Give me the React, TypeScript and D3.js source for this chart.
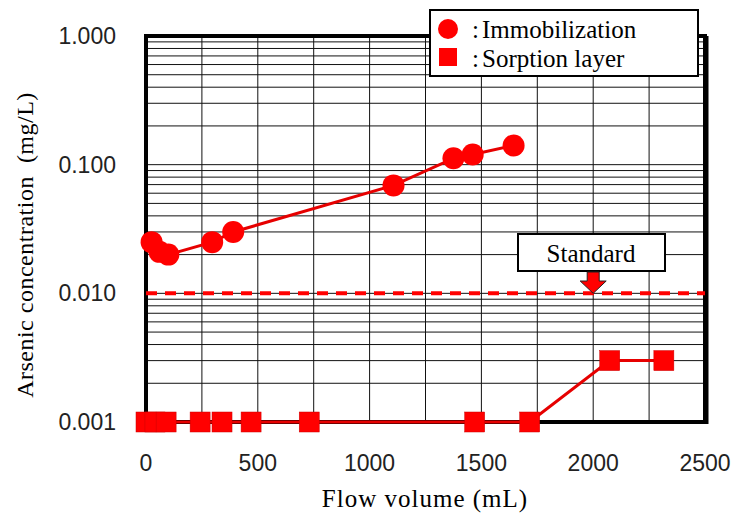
import React from "react";
import * as d3 from "d3";

const immobX = [25, 60, 100, 296, 390, 1107, 1375, 1461, 1644];
const immobY = [0.025, 0.021, 0.02, 0.025, 0.03, 0.069, 0.112, 0.12, 0.141];
const sorpX = [0, 40, 90, 242, 340, 470, 730, 1470, 1716, 2074, 2316];
const sorpY = [0.001, 0.001, 0.001, 0.001, 0.001, 0.001, 0.001, 0.001, 0.001, 0.003, 0.003];
const xTicks = [0, 500, 1000, 1500, 2000, 2500];
const yTicks = [0.001, 0.01, 0.1, 1];
const yTickLabels = ["0.001", "0.010", "0.100", "1.000"];
const standardValue = 0.01;
const standardArrowX = 2000;

const W = 734, H = 518;
const L = 146, R = 705, T = 36, B = 422;
const RED = "#ff0000";
const LINE = "#e60000";

export default function App() {
  const x = d3.scaleLinear().domain([0, 2500]).range([L, R]);
  const y = d3.scaleLog().domain([0.001, 1]).range([B, T]);
  const immobPath = d3.line<[number, number]>().x(d => x(d[0])).y(d => y(d[1]))(immobX.map((v, i) => [v, immobY[i]]));
  const sorpPath = d3.line<[number, number]>().x(d => x(d[0])).y(d => y(d[1]))(sorpX.map((v, i) => [v, sorpY[i]]));
  const minor: number[] = [];
  for (let k = -3; k < 0; k++) for (let m = 2; m <= 9; m++) minor.push(m * Math.pow(10, k));
  const vgrid = d3.range(250, 2500, 250);
  const sans = "'Liberation Sans', Arial, sans-serif";
  const serif = "'Liberation Serif', 'Times New Roman', serif";
  const ax = x(standardArrowX);
  const ys = y(standardValue);
  return (
    <svg width={W} height={H} style={{ position: "absolute", left: 0, top: 0, background: "#fff" }}>
      <rect x={0} y={0} width={W} height={H} fill="#fff" />
      {minor.map((v, i) => (
        <line key={"h" + i} x1={L} x2={R} y1={y(v)} y2={y(v)} stroke="#111" strokeWidth={1} />
      ))}
      {[0.01, 0.1].map((v, i) => (
        <line key={"hm" + i} x1={L} x2={R} y1={y(v)} y2={y(v)} stroke="#111" strokeWidth={1} />
      ))}
      {vgrid.map((v, i) => (
        <line key={"v" + i} x1={x(v)} x2={x(v)} y1={T} y2={B} stroke="#111" strokeWidth={1} />
      ))}
      <rect x={L} y={T} width={R - L} height={B - T} fill="none" stroke="#000" strokeWidth={4} />
      <line x1={R + 2} x2={R + 2} y1={T} y2={B + 2} stroke="#000" strokeWidth={3} />
      <line x1={L} x2={R} y1={ys} y2={ys} stroke={RED} strokeWidth={4} strokeDasharray="11,8" />
      <rect x={518} y={234} width={147} height={37} fill="#fff" stroke="#000" strokeWidth={2} />
      <text x={591} y={262} textAnchor="middle" fontFamily={serif} fontSize={25}>Standard</text>
      <path d={`M${ax - 6},${272} L${ax + 6},${272} L${ax + 6},${281} L${ax + 13},${281} L${ax},${ys} L${ax - 13},${281} L${ax - 6},${281} Z`} fill={RED} stroke="#222" strokeWidth={1} />
      <path d={immobPath ?? ""} fill="none" stroke={LINE} strokeWidth={3} />
      <path d={sorpPath ?? ""} fill="none" stroke={LINE} strokeWidth={3} />
      {immobX.map((v, i) => (
        <circle key={"c" + i} cx={x(v)} cy={y(immobY[i])} r={11} fill={RED} />
      ))}
      {sorpX.map((v, i) => (
        <rect key={"s" + i} x={x(v) - 10} y={y(sorpY[i]) - 10} width={20} height={20} fill={RED} stroke="#c00" strokeWidth={0.5} />
      ))}
      {xTicks.map((v, i) => (
        <text key={"xt" + i} x={x(v)} y={471} textAnchor="middle" fontFamily={sans} fontSize={23} fill="#222">{v}</text>
      ))}
      {yTicks.map((v, i) => (
        <text key={"yt" + i} x={116} y={y(v) + 8} textAnchor="end" fontFamily={sans} fontSize={23} fill="#222">{yTickLabels[i]}</text>
      ))}
      <text x={425} y={507} textAnchor="middle" fontFamily={serif} fontSize={25} letterSpacing={1}>Flow volume (mL)</text>
      <text transform={`translate(33,245) rotate(-90)`} textAnchor="middle" fontFamily={serif} fontSize={24} letterSpacing={0.5} style={{ whiteSpace: "pre" }}>Arsenic concentration  (mg/L)</text>
      <rect x={430} y={10} width={268} height={66} fill="#fff" stroke="#000" strokeWidth={2} />
      <circle cx={448} cy={29} r={10} fill={RED} />
      <rect x={439} y={48} width={18} height={18} fill={RED} />
      <text x={472} y={38} fontFamily={serif} fontSize={25}>:</text>
      <text x={482} y={38} fontFamily={serif} fontSize={25}>Immobilization</text>
      <text x={472} y={67} fontFamily={serif} fontSize={25}>:</text>
      <text x={482} y={67} fontFamily={serif} fontSize={25}>Sorption  layer</text>
    </svg>
  );
}
